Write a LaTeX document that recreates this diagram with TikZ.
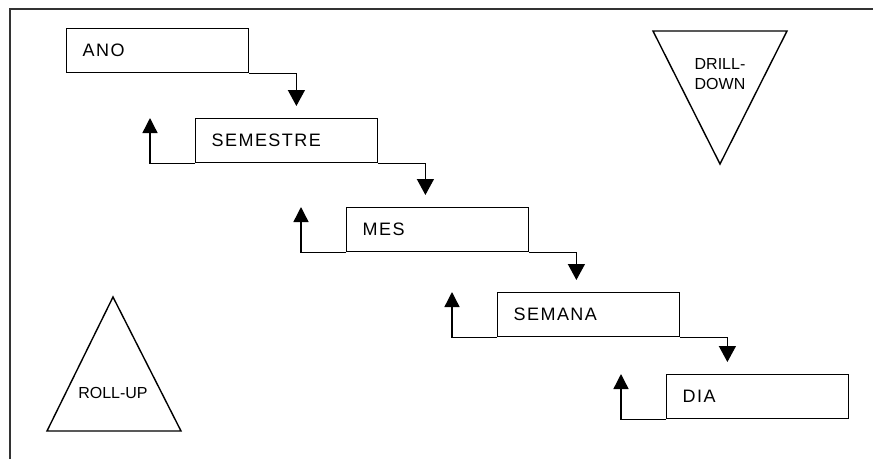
\documentclass[tikz,border=0pt]{standalone}
\usepackage{fontspec}
\setmainfont{Liberation Sans}
\newfontfamily\spacedfont[LetterSpace=8]{Liberation Sans}
\usetikzlibrary{arrows.meta}

\begin{document}
\begin{tikzpicture}[
  x=1pt, y=-1pt,
  line width=1.4pt,
  level/.style={draw, anchor=north west, inner xsep=16pt, inner ysep=0pt,
    text width=150pt, minimum height=44pt, align=left,
    font=\spacedfont\fontsize{18}{20}\selectfont},
  drill/.style={-{Triangle[width=17pt,length=16pt]}},
  roll/.style={-{Triangle[width=15pt,length=15pt]}},
  label/.style={align=center, inner sep=0pt,
    font=\fontsize{16}{20}\selectfont}]
\useasboundingbox (0,0) rectangle (873,459);
% frame
\draw[line width=1.3pt, black!80] (10,459) -- (10,9) -- (873,9);
% levels
\node[level] (ano)      at (66,28)   {ANO};
\node[level] (semestre) at (195,118) {SEMESTRE};
\node[level] (mes)      at (346,207) {MES};
\node[level] (semana)   at (497,292) {SEMANA};
\node[level] (dia)      at (666,374) {DIA};
% arrows between levels
\foreach \a/\b in {ano/semestre, semestre/mes, mes/semana, semana/dia} {
  \draw[drill] (\a.south east) -| ([xshift=47pt,yshift=12pt]\a.south east |- \b.north);
  \draw[roll] (\b.south west) -| ([xshift=-45pt]\b.north west);
}
% triangles
\draw (653,31) -- (787,31) -- (720,164) -- cycle;
\node[label] (drilltext) at (720,74) {DRILL-\\DOWN};
\draw (113,297) -- (47,431) -- (181,431) -- cycle;
\node[label] (rolltext) at (113,393) {ROLL-UP};
\end{tikzpicture}
\end{document}
